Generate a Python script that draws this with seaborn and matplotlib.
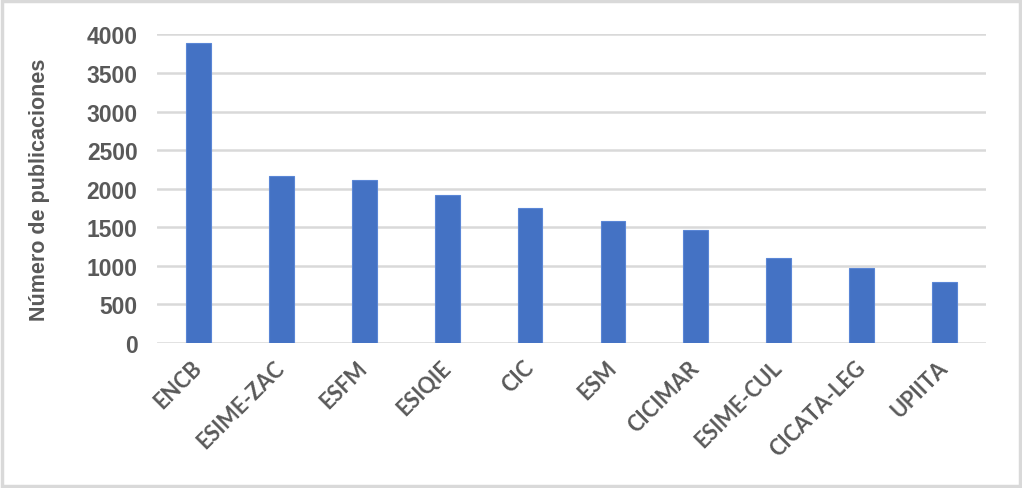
import seaborn as sns
import matplotlib.pyplot as plt
import matplotlib.patches as mpatches
import pandas as pd

# Publications per IPN school / centre
schools = ['ENCB', 'ESIME-ZAC', 'ESFM', 'ESIQIE', 'CIC', 'ESM',
           'CICIMAR', 'ESIME-CUL', 'CICATA-LEG', 'UPIITA']
publications = [3890, 2165, 2108, 1915, 1755, 1585, 1468, 1100, 966, 788]
y_ticks = [0, 500, 1000, 1500, 2000, 2500, 3000, 3500, 4000]

df = pd.DataFrame({'Escuela': schools, 'Publicaciones': publications})

sns.set_style("white")
plt.rcParams['font.family'] = ['Liberation Sans', 'DejaVu Sans']

fig = plt.figure(figsize=(10.22, 4.89), dpi=100)
ax = fig.add_axes([0.1536, 0.2965, 0.8112, 0.631])

sns.barplot(data=df, x='Escuela', y='Publicaciones', color='#4472C4',
            width=0.3, edgecolor='#5a86d6', linewidth=0.8, saturation=1,
            ax=ax, zorder=3)

ax.set_ylim(0, 4000)
ax.set_yticks(y_ticks)
ax.set_yticklabels([str(v) for v in y_ticks], fontsize=16.5, fontweight='bold',
                   color='#595959')
ax.set_xticks(range(len(schools)))
ax.set_xticklabels(schools, rotation=45, ha='right', va='center',
                   rotation_mode='anchor', fontsize=15.5, fontweight='bold',
                   color='#595959', family='Lato')
ax.tick_params(axis='x', pad=15, length=0)
ax.tick_params(axis='y', pad=14, length=0)

ax.grid(axis='y', color='#d9d9d9', linewidth=1.8, zorder=0)
ax.set_axisbelow(True)
for s in ax.spines.values():
    s.set_visible(False)

ax.set_xlabel('')
ax.set_ylabel('Número de publicaciones', fontsize=15.5, fontweight='bold',
              color='#595959', labelpad=26)

# light frame around the whole chart
fig.patches.append(mpatches.Rectangle((0.002, 0.004), 0.996, 0.992,
                                      transform=fig.transFigure, fill=False,
                                      edgecolor='#d9d9d9', linewidth=2.5))

fig.savefig('out.png', dpi=100)
plt.close(fig)
